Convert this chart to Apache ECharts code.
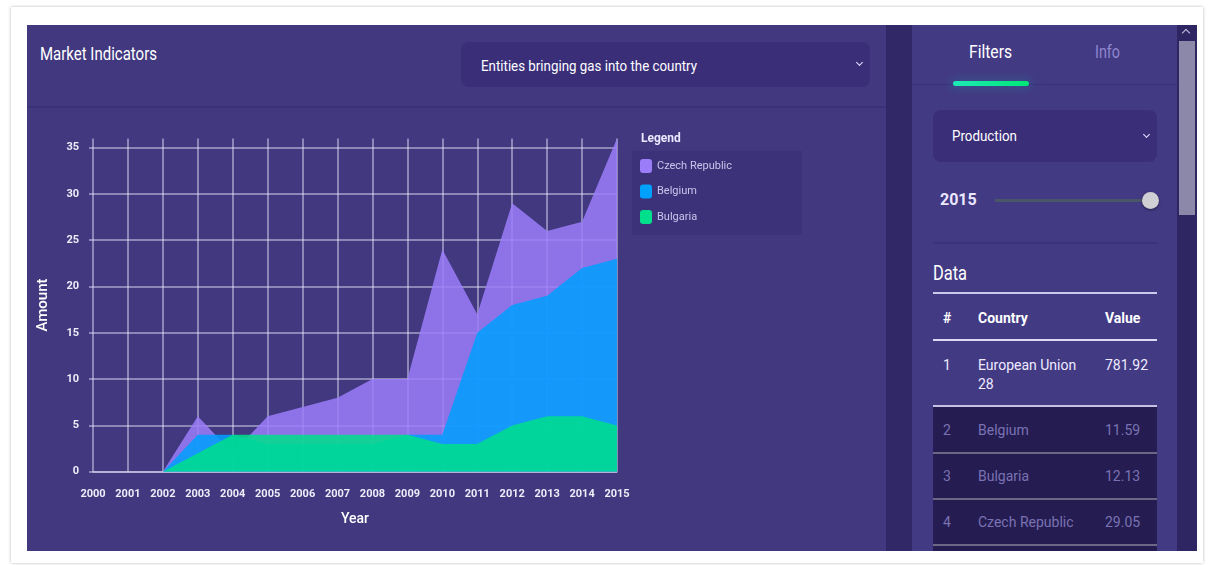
<!DOCTYPE html>
<html>
<head>
<meta charset="utf-8">
<title>Market Indicators</title>
<script src="https://cdn.jsdelivr.net/npm/echarts@6/dist/echarts.min.js"></script>
<style>
  html, body { margin: 0; padding: 0; background: #ffffff; }
  body { width: 1211px; height: 565px; position: relative; overflow: hidden;
         font-family: Roboto, "Noto Sans", sans-serif; }
  .abs { position: absolute; box-sizing: border-box; }
  .fit { white-space: nowrap; transform-origin: 0 50%; }
  .card { left: 11px; top: 7px; width: 1192px; height: 556px; background: #fff;
          box-shadow: 0 0 3px rgba(0,0,0,0.28); }
  .panel-main { left: 27px; top: 25px; width: 859px; height: 526px; background: #41387f; }
  .strip { left: 886px; top: 25px; width: 26px; height: 526px; background: #302867; }
  .panel-side { left: 912px; top: 25px; width: 265px; height: 526px; background: #433a84; }
  .scroll-track { left: 1177px; top: 25px; width: 20px; height: 526px; background: #2e2663; }
  .scroll-thumb { left: 1179px; top: 41px; width: 16px; height: 174px; background: #8b88aa; }
  .scroll-up { left: 1183px; top: 30px; width: 6px; height: 6px; border-left: 1.5px solid #c9c6df;
               border-top: 1.5px solid #c9c6df; transform: rotate(45deg); }
  .hdr-line { left: 27px; top: 106px; width: 859px; height: 2px; background: #3a3276; }
  .select { background: #3a2e79; border-radius: 8px; color: #ffffff; }
  .chev { width: 5px; height: 5px; border-right: 1.5px solid #e6e2ff; border-bottom: 1.5px solid #e6e2ff;
          transform: rotate(45deg); }
  .tab-line { left: 912px; top: 84px; width: 265px; height: 1px; background: #3a3277; }
  .indicator { left: 953px; top: 81px; width: 76px; height: 5px; border-radius: 3px;
               background: linear-gradient(90deg, #1de9b6, #00e676);
               box-shadow: 0 0 10px 3px rgba(40,120,150,0.35); }
  .slider-track { left: 995px; top: 199px; width: 155px; height: 3px; background: #4b5668; }
  .slider-thumb { left: 1142px; top: 192px; width: 17px; height: 17px; border-radius: 50%;
                  background: #cfcfd4; box-shadow: 0 1px 3px rgba(0,0,0,0.45); }
  .sep { left: 933px; width: 224px; }
  .cell { font-size: 14px; line-height: 19px; }
  .dim { color: #7a72b4; }
  .rowbg { left: 933px; width: 224px; height: 46px; background: #251d51; }
</style>
</head>
<body>
  <div class="abs card"></div>
  <div class="abs panel-main"></div>
  <div class="abs strip"></div>
  <div class="abs panel-side"></div>
  <div class="abs scroll-track"></div>
  <div class="abs scroll-thumb"></div>
  <div class="abs scroll-up"></div>

  <!-- chart panel header -->
  <div class="abs fit" data-w="117" style="left:40px;top:43px;color:#fff;font-size:18px;line-height:22px;">Market Indicators</div>
  <div class="abs hdr-line"></div>
  <div class="abs select" style="left:461px;top:42px;width:409px;height:45px;"></div>
  <div class="abs fit" data-w="216" style="left:481px;top:57px;color:#fff;font-size:15px;line-height:18px;">Entities bringing gas into the country</div>
  <div class="abs chev" style="left:857px;top:60px;"></div>

  <!-- side panel: tabs -->
  <div class="abs fit" data-w="43" style="left:969px;top:41px;color:#fff;font-size:18px;line-height:22px;">Filters</div>
  <div class="abs fit" data-w="25" style="left:1095px;top:41px;color:#8f86cf;font-size:18px;line-height:22px;">Info</div>
  <div class="abs tab-line"></div>
  <div class="abs indicator"></div>

  <!-- side panel: filters -->
  <div class="abs select" style="left:933px;top:110px;width:224px;height:52px;"></div>
  <div class="abs fit" data-w="65" style="left:952px;top:127px;color:#fff;font-size:15px;line-height:19px;">Production</div>
  <div class="abs chev" style="left:1144px;top:132px;"></div>
  <div class="abs" style="left:940px;top:190px;color:#ebe7ff;font-size:16px;line-height:20px;font-weight:bold;">2015</div>
  <div class="abs slider-track"></div>
  <div class="abs slider-thumb"></div>
  <div class="abs sep" style="top:242px;height:2px;background:#3b3379;"></div>

  <!-- side panel: data table -->
  <div class="abs fit" data-w="34" style="left:933px;top:261px;color:#fff;font-size:20px;line-height:24px;">Data</div>
  <div class="abs sep" style="top:292px;height:2px;background:#cdc7ec;"></div>
  <div class="abs cell" style="left:943px;top:309px;color:#fff;font-weight:bold;">#</div>
  <div class="abs cell" style="left:978px;top:309px;color:#fff;font-weight:bold;">Country</div>
  <div class="abs cell" style="left:1105px;top:309px;color:#fff;font-weight:bold;">Value</div>
  <div class="abs sep" style="top:339px;height:2px;background:#dcd7f2;"></div>
  <div class="abs cell" style="left:943px;top:356px;color:#eeeaff;">1</div>
  <div class="abs cell" style="left:978px;top:356px;color:#eeeaff;">European Union<br>28</div>
  <div class="abs cell" style="left:1105px;top:356px;color:#eeeaff;">781.92</div>
  <div class="abs sep" style="top:405px;height:2px;background:#c6c0e2;"></div>

  <div class="abs rowbg" style="top:407px;"></div>
  <div class="abs rowbg" style="top:453px;"></div>
  <div class="abs rowbg" style="top:499px;height:52px;"></div>
  <div class="abs sep" style="top:452px;height:2px;background:#6c6784;"></div>
  <div class="abs sep" style="top:498px;height:2px;background:#6c6784;"></div>
  <div class="abs sep" style="top:544px;height:2px;background:#6c6784;"></div>

  <div class="abs cell dim" style="left:943px;top:421px;">2</div>
  <div class="abs cell dim" style="left:978px;top:421px;">Belgium</div>
  <div class="abs cell dim" style="left:1105px;top:421px;">11.59</div>
  <div class="abs cell dim" style="left:943px;top:467px;">3</div>
  <div class="abs cell dim" style="left:978px;top:467px;">Bulgaria</div>
  <div class="abs cell dim" style="left:1105px;top:467px;">12.13</div>
  <div class="abs cell dim" style="left:943px;top:513px;">4</div>
  <div class="abs cell dim" style="left:978px;top:513px;">Czech Republic</div>
  <div class="abs cell dim" style="left:1105px;top:513px;">29.05</div>

  <!-- area chart -->
  <div id="chart" class="abs" style="left:27px;top:108px;width:859px;height:443px;"></div>

<script>
// Years on the x axis
const years = ['2000', '2001', '2002', '2003', '2004', '2005', '2006', '2007',
               '2008', '2009', '2010', '2011', '2012', '2013', '2014', '2015'];

// Entities bringing gas into the country, per year
const czechRepublic = [0, 0, 0, 6, 2, 6, 7, 8, 10, 10, 24, 17, 29, 26, 27, 36];
const belgium       = [0, 0, 0, 4, 4, 3, 3, 3, 3, 4, 4, 15, 18, 19, 22, 23];
const bulgaria      = [0, 0, 0, 2, 4, 4, 4, 4, 4, 4, 3, 3, 5, 6, 6, 5];

const seriesNames  = ['Czech Republic', 'Belgium', 'Bulgaria'];
const seriesColors = ['#9b7df9', '#00a0ff', '#00e08c'];

// Amount axis
const amountMin = 0;
const amountMax = 36;
const amountStep = 5;

// Condense header texts to their box widths
document.querySelectorAll('.fit').forEach(function (el) {
  const target = parseFloat(el.getAttribute('data-w'));
  const actual = el.getBoundingClientRect().width;
  if (actual > 0) el.style.transform = 'scaleX(' + (target / actual).toFixed(3) + ')';
});

const FONT = 'Roboto, sans-serif';
const gridColor = 'rgba(235, 232, 255, 0.6)';

const chart = echarts.init(document.getElementById('chart'), null, { renderer: 'canvas' });

function areaSeries(name, data, color) {
  return {
    name: name,
    type: 'line',
    data: data,
    showSymbol: false,
    symbol: 'none',
    smooth: false,
    itemStyle: { color: color },
    lineStyle: { width: 0, color: color },
    areaStyle: { color: color, opacity: 0.86 },
    emphasis: { disabled: true }
  };
}

chart.setOption({
  backgroundColor: 'transparent',
  animation: false,
  grid: { left: 66, right: 269, top: 30.4, bottom: 79.3, containLabel: false, outerBoundsMode: 'none' },
  graphic: [
    { type: 'rect', left: 605, top: 43, shape: { width: 170, height: 84 },
      style: { fill: '#3b3279' }, silent: true },
    { type: 'text', left: 614, top: 25,
      style: { text: 'Legend', fill: '#ece8ff', font: 'bold 12px ' + FONT } }
  ],
  legend: {
    data: seriesNames,
    orient: 'vertical',
    left: 613,
    top: 51,
    padding: 0,
    icon: 'roundRect',
    itemWidth: 12,
    itemHeight: 14,
    itemGap: 11.5,
    selectedMode: false,
    textStyle: { color: '#cbc5ec', fontSize: 11, fontFamily: FONT }
  },
  xAxis: {
    type: 'category',
    data: years,
    boundaryGap: false,
    name: 'Year',
    nameLocation: 'middle',
    nameGap: 41,
    nameMoveOverlap: false,
    nameTextStyle: { color: '#ffffff', fontSize: 14, fontWeight: 500, fontFamily: FONT },
    axisLine: { show: true, lineStyle: { color: gridColor, width: 1.5 } },
    axisTick: { show: false },
    axisLabel: { color: '#eeecf8', fontSize: 11, fontWeight: 'bold', fontFamily: FONT,
                 margin: 17, interval: 0 },
    splitLine: { show: true, lineStyle: { color: gridColor, width: 1.5 } }
  },
  yAxis: {
    type: 'value',
    min: amountMin,
    max: amountMax,
    interval: amountStep,
    name: 'Amount',
    nameLocation: 'middle',
    nameGap: 42,
    nameMoveOverlap: false,
    nameRotate: 90,
    nameTextStyle: { color: '#ffffff', fontSize: 15, fontWeight: 500, fontFamily: FONT },
    axisLine: { show: false },
    axisTick: { show: true, length: 4, lineStyle: { color: gridColor, width: 1.5 } },
    axisLabel: { color: '#eeecf8', fontSize: 11, fontWeight: 'bold', fontFamily: FONT,
                 margin: 14, showMaxLabel: false },
    splitLine: { show: true, showMaxLine: false, lineStyle: { color: gridColor, width: 1.5 } }
  },
  series: [
    areaSeries(seriesNames[0], czechRepublic, seriesColors[0]),
    areaSeries(seriesNames[1], belgium, seriesColors[1]),
    areaSeries(seriesNames[2], bulgaria, seriesColors[2])
  ]
});
</script>
</body>
</html>
